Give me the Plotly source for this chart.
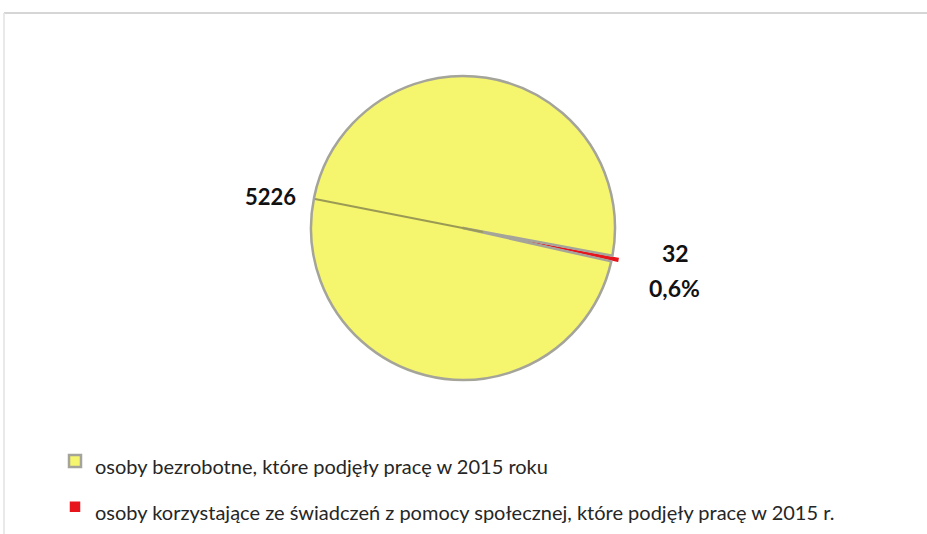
import plotly.graph_objects as go

W, H = 927, 534

categories = [
    "osoby korzystające ze świadczeń z pomocy społecznej, które podjęły pracę w 2015 r.",
    "osoby bezrobotne, które podjęły pracę w 2015 roku",
]
values = [32, 5226]
colors = ["#E8141B", "#F6F56E"]

total = sum(values)
pct_small = values[0] / total * 100

# large legend font sets row spacing; the visible text is drawn smaller
legend_labels = [f'<span style="font-size:20px">{c}</span>' for c in categories]

def px(x):
    return x / W

def py(y):
    return 1 - y / H

pull = 0.05
cx, cy, r = 463, 228, 152
half = r * (1 + pull)

FONT = "Lato, Noto Sans, sans-serif"

fig = go.Figure()
fig.add_trace(go.Pie(
    labels=legend_labels,
    values=values,
    sort=False,
    direction="clockwise",
    rotation=100.5,
    pull=[pull, 0],
    marker=dict(colors=colors, line=dict(color=["#ffffff", "#a4a49a"], width=[1.5, 2.5])),
    textinfo="none",
    hoverinfo="value+percent",
    domain=dict(x=[px(cx - half), px(cx + half)], y=[py(cy + half), py(cy - half)]),
    showlegend=True,
))

fig.update_layout(
    width=W, height=H,
    autosize=False,
    margin=dict(l=0, r=0, t=0, b=0, autoexpand=False),
    paper_bgcolor="white",
    plot_bgcolor="white",
    font=dict(family=FONT, color="#222"),
    legend=dict(
        x=px(55), y=py(433), xanchor="left", yanchor="top",
        font=dict(size=33, family=FONT, color="#262626"),
        traceorder="reversed",
        itemwidth=30,
        bgcolor="rgba(0,0,0,0)",
    ),
    shapes=[
        dict(type="line", xref="paper", yref="paper", x0=px(4), x1=1, y0=py(13), y1=py(13),
             line=dict(color="#d6d6d6", width=2)),
        dict(type="line", xref="paper", yref="paper", x0=px(4), x1=px(4), y0=py(13), y1=0,
             line=dict(color="#e2e2e2", width=1.5)),
        dict(type="line", xref="paper", yref="paper", x0=px(315), x1=px(483), y0=py(199), y1=py(232),
             line=dict(color="#9a9a55", width=2)),
    ],
    annotations=[
        dict(text=f"<b>{values[1]}</b>", x=px(270), y=py(196), xref="paper", yref="paper",
             xanchor="center", yanchor="middle",
             showarrow=False, font=dict(size=22, family=FONT, color="#111")),
        dict(text=f"<b>{values[0]}</b>", x=px(675), y=py(253), xref="paper", yref="paper",
             xanchor="center", yanchor="middle",
             showarrow=False, font=dict(size=23, family=FONT, color="#111")),
        dict(text=f"<b>{pct_small:.1f}%</b>".replace(".", ","), x=px(674), y=py(288), xref="paper", yref="paper",
             xanchor="center", yanchor="middle",
             showarrow=False, font=dict(size=23, family=FONT, color="#111")),
    ],
)

fig.write_html(
    "out.html",
    config={"displayModeBar": False, "responsive": False},
    post_script=(
        "document.body.style.margin='0px';"
        "document.body.style.overflow='hidden';"
        "document.documentElement.style.overflow='hidden';"
    ),
)
